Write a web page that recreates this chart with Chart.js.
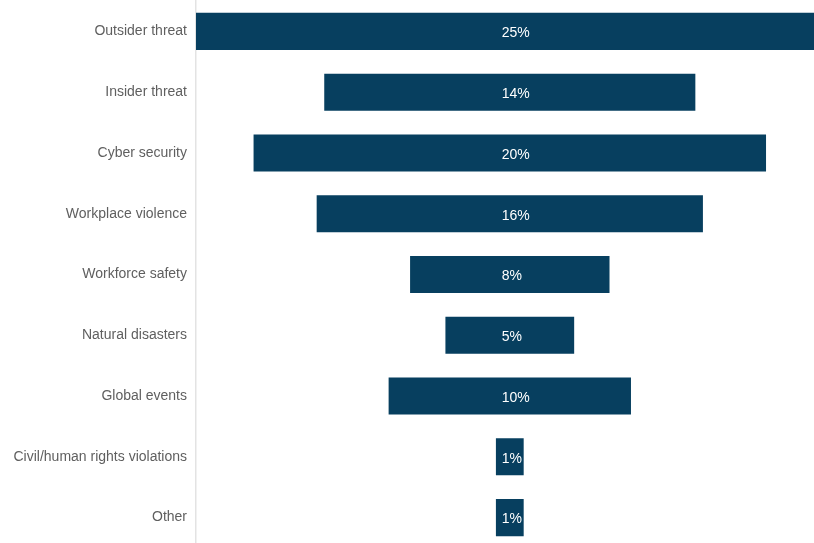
<!DOCTYPE html>
<html>
<head>
<meta charset="utf-8">
<script src="https://cdn.jsdelivr.net/npm/chart.js@4/dist/chart.umd.min.js"></script>
<style>
  html, body { margin: 0; padding: 0; background: #fff; overflow: hidden; }
</style>
</head>
<body>
<canvas id="graph" width="814" height="548"></canvas>
<script>
// categories, top to bottom
var categories = [
  'Outsider threat', 'Insider threat', 'Cyber security', 'Workplace violence',
  'Workforce safety', 'Natural disasters', 'Global events',
  'Civil/human rights violations', 'Other'
];
// share of respondents (%)
var shares = [25.0, 14.7, 20.3, 15.3, 7.9, 5.1, 9.6, 1.1, 1.1];
// labels printed on the bars
var shareLabels = ['25%', '14%', '20%', '16%', '8%', '5%', '10%', '1%', '1%'];

// bars are centred on zero, like a funnel
var floating = shares.map(function(v) { return [-v / 2, v / 2]; });

// write the percentage on every bar, starting a bit left of the middle
var barText = {
  id: 'barText',
  afterDatasetsDraw: function(chart) {
    var ctx = chart.ctx;
    var meta = chart.getDatasetMeta(0);
    var x = chart.scales.x.getPixelForValue(0);
    ctx.save();
    ctx.fillStyle = '#ffffff';
    ctx.font = '14px "Liberation Sans", Arial, sans-serif';
    ctx.textAlign = 'left';
    ctx.textBaseline = 'middle';
    meta.data.forEach(function(bar, i) {
      ctx.fillText(shareLabels[i], x - 8, bar.y + 2);
    });
    ctx.restore();
  }
};

var ctx = document.getElementById('graph').getContext('2d');
var chart = new Chart(ctx, {
  type: 'bar',
  data: {
    labels: categories,
    datasets: [{
      data: floating,
      backgroundColor: '#073f5f',
      borderSkipped: false,
      barPercentage: 0.61,
      categoryPercentage: 1
    }]
  },
  options: {
    indexAxis: 'y',
    responsive: false,
    animation: false,
    layout: { padding: { top: 1 } },
    plugins: {
      legend: { display: false },
      tooltip: { enabled: false }
    },
    scales: {
      x: {
        display: false,
        min: -12.43,
        max: 12.05
      },
      y: {
        afterFit: function(scale) {
          scale.width = 196;
          // no extra room above/below for the end labels
          scale.paddingTop = 0;
          scale.paddingBottom = 0;
        },
        grid: { display: false, drawTicks: false },
        border: { display: true, color: '#e3e3e3', width: 1.5 },
        ticks: {
          padding: 9,
          color: '#5f5f5f',
          font: { family: '"Liberation Sans", Arial, sans-serif', size: 14 }
        }
      }
    }
  },
  plugins: [barText]
});
</script>
</body>
</html>
